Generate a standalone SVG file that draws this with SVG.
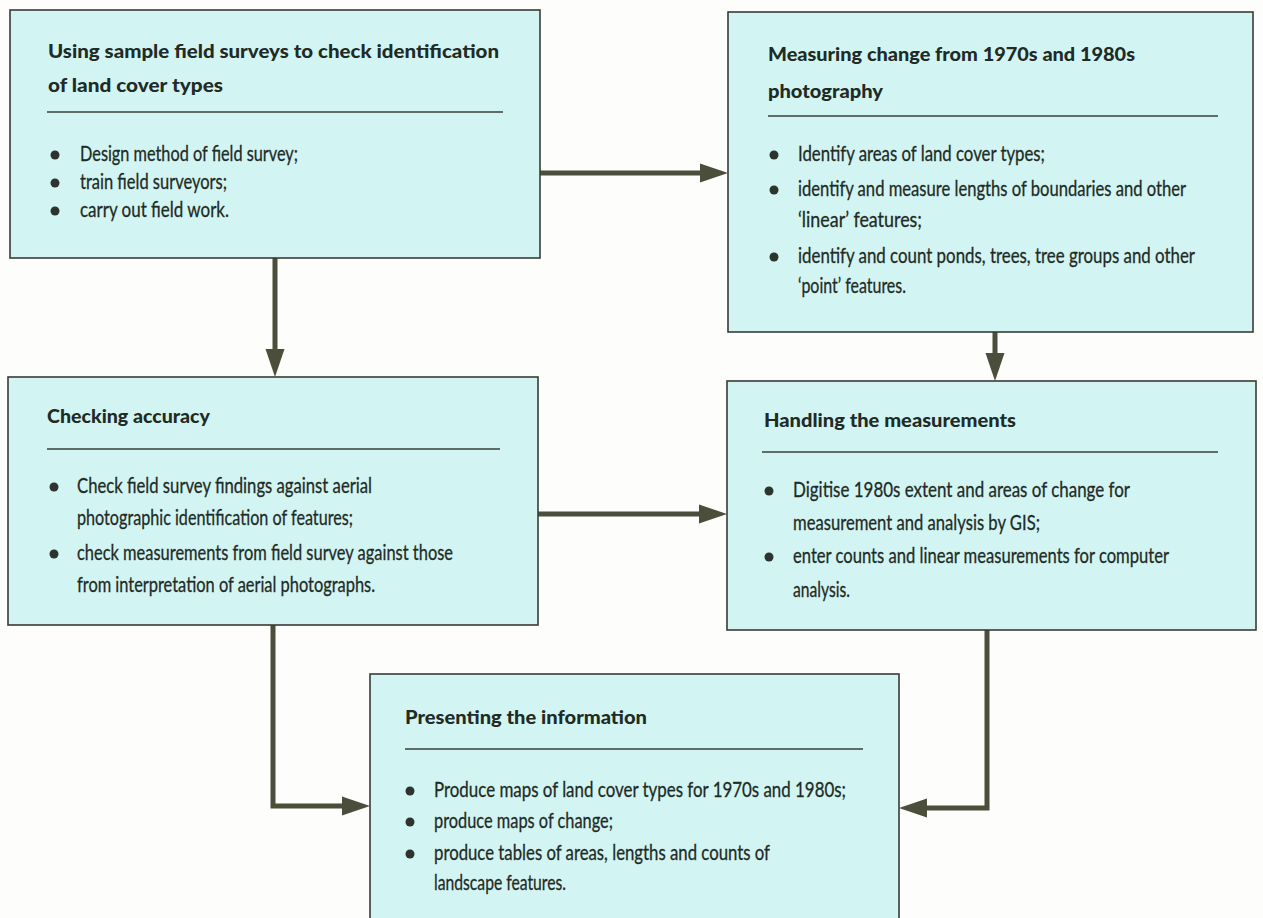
<svg xmlns="http://www.w3.org/2000/svg" width="1263" height="918" viewBox="0 0 1263 918">
<defs>
<style>
.box{fill:#d2f5f4;stroke:#3a3a36;stroke-width:1.6}
.sep{stroke:#3a3f38;stroke-width:1.3}
.t{font-family:Lato,"Liberation Sans",sans-serif;font-weight:900;font-size:18px;fill:#1f2b24}
.b{font-family:Lato,"Liberation Sans",sans-serif;font-size:21px;fill:#1f2b24;stroke:#1f2b24;stroke-width:0.3}
.dot{fill:#2c342d}
.con{fill:none;stroke:#4a4e3b;stroke-width:5;stroke-linejoin:miter}
</style>
<marker id="ah" markerUnits="userSpaceOnUse" markerWidth="30" markerHeight="26" refX="2" refY="13" orient="auto">
<path d="M0,3.5 L28,13 L0,22.5 Z" fill="#4a4e3b"/>
</marker>
</defs>
<rect width="1263" height="918" fill="#fdfdfb"/>
<g id="connectors">
<path class="con" d="M275,258 V351" marker-end="url(#ah)"/>
<path class="con" d="M540,173 H702" marker-end="url(#ah)"/>
<path class="con" d="M995,332 V355" marker-end="url(#ah)"/>
<path class="con" d="M538,514 H701" marker-end="url(#ah)"/>
<path class="con" d="M273,625 V806 H344" marker-end="url(#ah)"/>
<path class="con" d="M987,630 V808 H925" marker-end="url(#ah)"/>
</g>
<g id="node-field-surveys">
<rect class="box" x="10" y="10" width="530" height="248"/>
<text class="t" x="48" y="58" textLength="451" lengthAdjust="spacingAndGlyphs">Using sample field surveys to check identification</text>
<text class="t" x="48" y="92" textLength="175" lengthAdjust="spacingAndGlyphs">of land cover types</text>
<line class="sep" x1="47" y1="112" x2="503" y2="112"/>
<circle class="dot" cx="55" cy="155" r="4.5"/>
<text class="b" x="80" y="161" textLength="218" lengthAdjust="spacingAndGlyphs">Design method of field survey;</text>
<circle class="dot" cx="55" cy="183" r="4.5"/>
<text class="b" x="80" y="189" textLength="147" lengthAdjust="spacingAndGlyphs">train field surveyors;</text>
<circle class="dot" cx="55" cy="211" r="4.5"/>
<text class="b" x="80" y="217" textLength="149" lengthAdjust="spacingAndGlyphs">carry out field work.</text>
</g>
<g id="node-measuring-change">
<rect class="box" x="728" y="12" width="525" height="320"/>
<text class="t" x="768" y="61" textLength="367" lengthAdjust="spacingAndGlyphs">Measuring change from 1970s and 1980s</text>
<text class="t" x="768" y="98" textLength="115" lengthAdjust="spacingAndGlyphs">photography</text>
<line class="sep" x1="768" y1="116" x2="1218" y2="116"/>
<circle class="dot" cx="774" cy="155" r="4.5"/>
<text class="b" x="798" y="161" textLength="247" lengthAdjust="spacingAndGlyphs">Identify areas of land cover types;</text>
<circle class="dot" cx="774" cy="190" r="4.5"/>
<text class="b" x="798" y="196" textLength="388" lengthAdjust="spacingAndGlyphs">identify and measure lengths of boundaries and other</text>
<text class="b" x="798" y="227" textLength="124" lengthAdjust="spacingAndGlyphs">‘linear’  features;</text>
<circle class="dot" cx="774" cy="257" r="4.5"/>
<text class="b" x="798" y="263" textLength="397" lengthAdjust="spacingAndGlyphs">identify and count ponds, trees, tree groups and other</text>
<text class="b" x="798" y="293" textLength="108" lengthAdjust="spacingAndGlyphs">‘point’  features.</text>
</g>
<g id="node-checking-accuracy">
<rect class="box" x="8" y="377" width="530" height="248"/>
<text class="t" x="47" y="423" textLength="163" lengthAdjust="spacingAndGlyphs">Checking accuracy</text>
<line class="sep" x1="47" y1="449" x2="500" y2="449"/>
<circle class="dot" cx="54" cy="487" r="4.5"/>
<text class="b" x="77" y="493" textLength="295" lengthAdjust="spacingAndGlyphs">Check field survey findings against aerial</text>
<text class="b" x="77" y="525" textLength="276" lengthAdjust="spacingAndGlyphs">photographic identification of features;</text>
<circle class="dot" cx="54" cy="554" r="4.5"/>
<text class="b" x="77" y="560" textLength="376" lengthAdjust="spacingAndGlyphs">check measurements from field survey against those</text>
<text class="b" x="77" y="592" textLength="298" lengthAdjust="spacingAndGlyphs">from interpretation of aerial photographs.</text>
</g>
<g id="node-handling">
<rect class="box" x="727" y="381" width="529" height="249"/>
<text class="t" x="764" y="427" textLength="252" lengthAdjust="spacingAndGlyphs">Handling the measurements</text>
<line class="sep" x1="762" y1="452" x2="1218" y2="452"/>
<circle class="dot" cx="769" cy="491" r="4.5"/>
<text class="b" x="793" y="497" textLength="337" lengthAdjust="spacingAndGlyphs">Digitise 1980s extent and areas of change for</text>
<text class="b" x="793" y="530" textLength="247" lengthAdjust="spacingAndGlyphs">measurement and analysis by GIS;</text>
<circle class="dot" cx="769" cy="557" r="4.5"/>
<text class="b" x="793" y="563" textLength="376" lengthAdjust="spacingAndGlyphs">enter counts and linear measurements for computer</text>
<text class="b" x="793" y="597" textLength="57" lengthAdjust="spacingAndGlyphs">analysis.</text>
</g>
<g id="node-presenting">
<rect class="box" x="370" y="674" width="529" height="250"/>
<text class="t" x="405" y="724" textLength="242" lengthAdjust="spacingAndGlyphs">Presenting the information</text>
<line class="sep" x1="405" y1="749" x2="863" y2="749"/>
<circle class="dot" cx="410" cy="791" r="4.5"/>
<text class="b" x="434" y="797" textLength="412" lengthAdjust="spacingAndGlyphs">Produce maps of land cover types for 1970s and 1980s;</text>
<circle class="dot" cx="410" cy="822" r="4.5"/>
<text class="b" x="434" y="828" textLength="179" lengthAdjust="spacingAndGlyphs">produce maps of change;</text>
<circle class="dot" cx="410" cy="854" r="4.5"/>
<text class="b" x="434" y="860" textLength="336" lengthAdjust="spacingAndGlyphs">produce tables of areas, lengths and counts of</text>
<text class="b" x="434" y="890" textLength="132" lengthAdjust="spacingAndGlyphs">landscape features.</text>
</g>
</svg>
